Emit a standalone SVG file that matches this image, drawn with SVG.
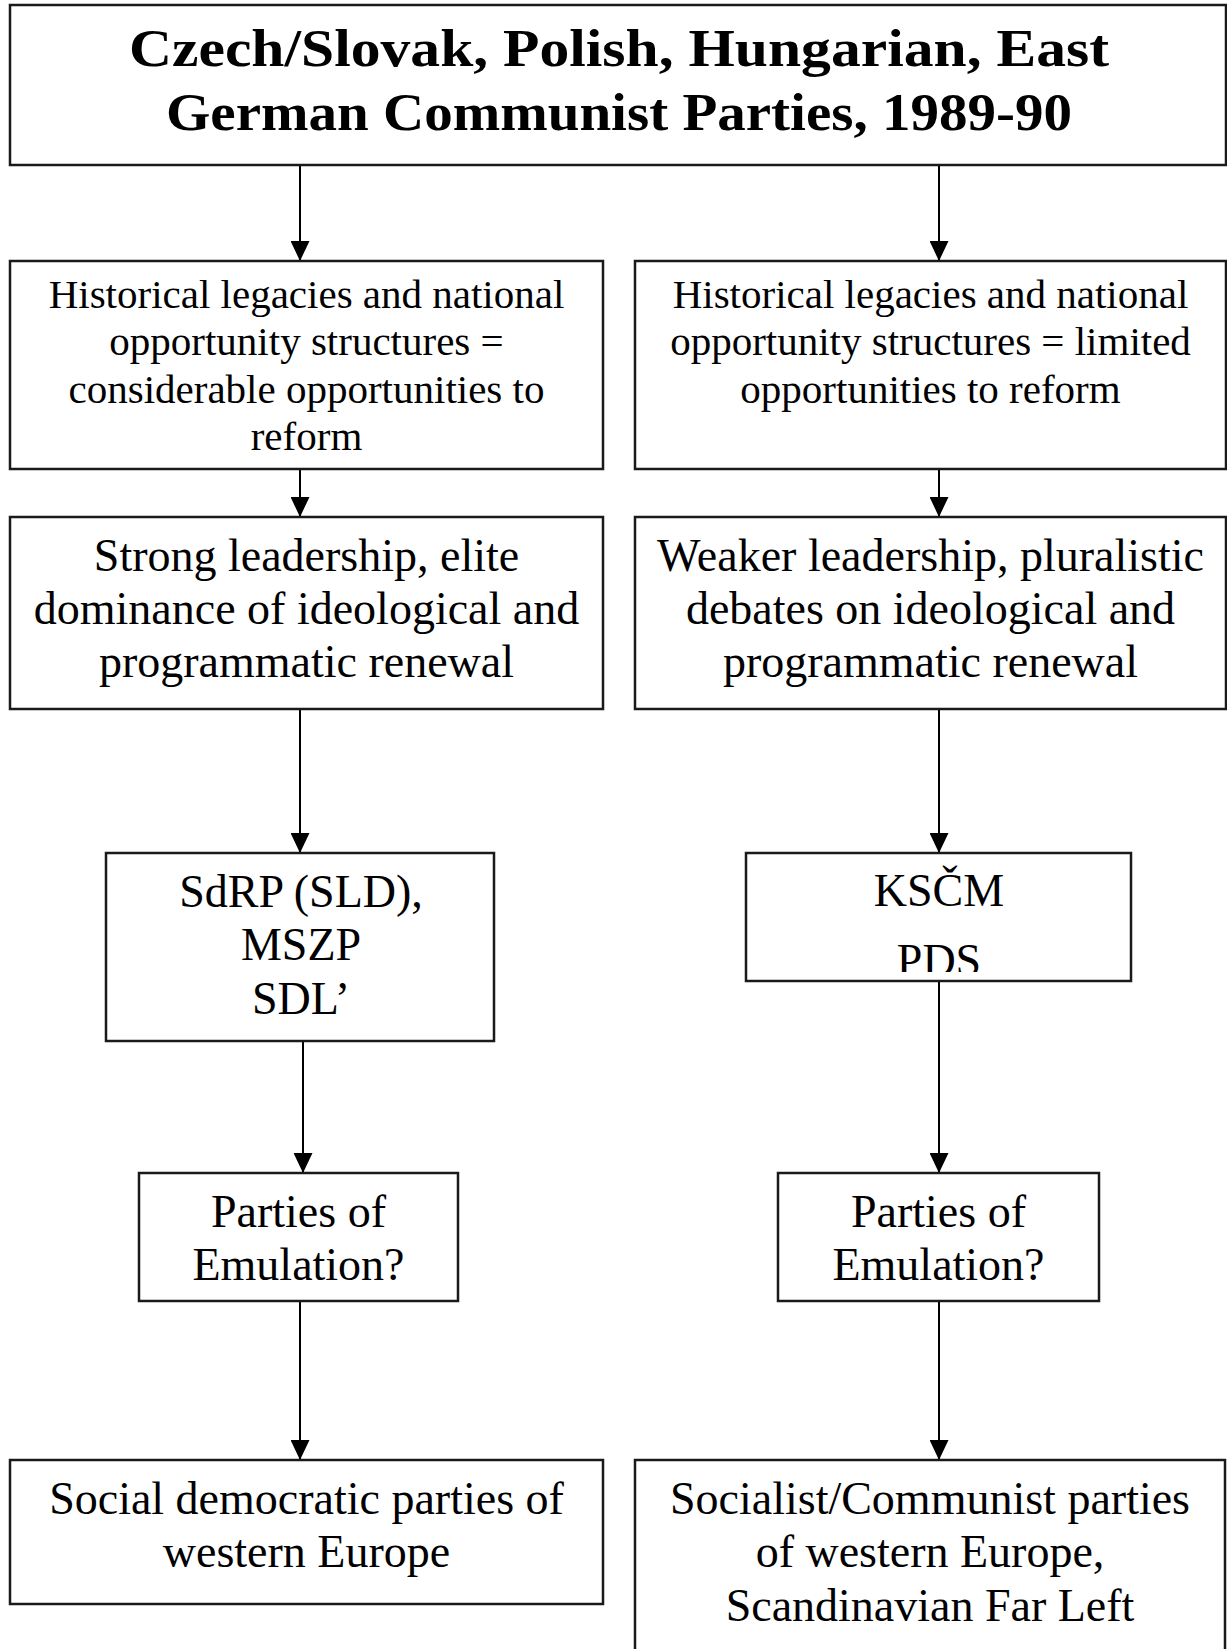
<svg xmlns="http://www.w3.org/2000/svg" width="1227" height="1649" viewBox="0 0 1227 1649">
<style>
.box{fill:#fff;stroke:#1a1a1a;stroke-width:2.5}
.t{font-family:"Liberation Serif","Times New Roman",serif;fill:#000;text-anchor:middle}
.title{font-weight:bold;font-size:53px}
.s40{font-size:41px}
.s46{font-size:46px}
.con{stroke:#000;stroke-width:2;fill:none;marker-end:url(#ah)}
</style>
<defs>
<marker id="ah" markerUnits="userSpaceOnUse" markerWidth="20" markerHeight="19" refX="20" refY="9.5" orient="auto" viewBox="0 0 20 19">
<path d="M0,0 L20,9.5 L0,19 Z" fill="#000"/>
</marker>
<clipPath id="clipK"><rect x="746" y="853" width="386" height="119"/></clipPath>
</defs>
<g id="connectors">
<line class="con" x1="300" y1="166" x2="300" y2="261"/>
<line class="con" x1="939" y1="166" x2="939" y2="261"/>
<line class="con" x1="300" y1="469" x2="300" y2="517"/>
<line class="con" x1="939" y1="469" x2="939" y2="517"/>
<line class="con" x1="300" y1="709" x2="300" y2="853"/>
<line class="con" x1="939" y1="709" x2="939" y2="853"/>
<line class="con" x1="303" y1="1041" x2="303" y2="1173"/>
<line class="con" x1="939" y1="981" x2="939" y2="1173"/>
<line class="con" x1="300" y1="1301" x2="300" y2="1460"/>
<line class="con" x1="939" y1="1301" x2="939" y2="1460"/>
</g>
<g id="title">
<rect class="box" x="10" y="5" width="1216" height="160"/>
<text class="t title" x="619" y="66" textLength="980" lengthAdjust="spacingAndGlyphs">Czech/Slovak, Polish, Hungarian, East</text>
<text class="t title" x="619" y="130" textLength="906" lengthAdjust="spacingAndGlyphs">German Communist Parties, 1989-90</text>
</g>
<g id="histL">
<rect class="box" x="10" y="261" width="593" height="208"/>
<text class="t s40" x="306.5" y="308">Historical legacies and national</text>
<text class="t s40" x="306.5" y="355">opportunity structures =</text>
<text class="t s40" x="306.5" y="403">considerable opportunities to</text>
<text class="t s40" x="306.5" y="450">reform</text>
</g>
<g id="histR">
<rect class="box" x="635" y="261" width="591" height="208"/>
<text class="t s40" x="930.5" y="308">Historical legacies and national</text>
<text class="t s40" x="930.5" y="355">opportunity structures = limited</text>
<text class="t s40" x="930.5" y="403">opportunities to reform</text>
</g>
<g id="strongL">
<rect class="box" x="10" y="517" width="593" height="192"/>
<text class="t s46" x="306.5" y="571">Strong leadership, elite</text>
<text class="t s46" x="306.5" y="624">dominance of ideological and</text>
<text class="t s46" x="306.5" y="677">programmatic renewal</text>
</g>
<g id="weakerR">
<rect class="box" x="635" y="517" width="591" height="192"/>
<text class="t s46" x="930.5" y="571">Weaker leadership, pluralistic</text>
<text class="t s46" x="930.5" y="624">debates on ideological and</text>
<text class="t s46" x="930.5" y="677">programmatic renewal</text>
</g>
<g id="sdrp">
<rect class="box" x="106" y="853" width="388" height="188"/>
<text class="t s46" x="301" y="907">SdRP (SLD),</text>
<text class="t s46" x="301" y="960">MSZP</text>
<text class="t s46" x="301" y="1014">SDL’</text>
</g>
<g id="kscm">
<rect class="box" x="746" y="853" width="385" height="128"/>
<text class="t s46" x="939" y="906">KSČM</text>
<text class="t s46" x="939" y="976" clip-path="url(#clipK)">PDS</text>
</g>
<g id="partiesL">
<rect class="box" x="139" y="1173" width="319" height="128"/>
<text class="t s46" x="298.5" y="1227">Parties of</text>
<text class="t s46" x="298.5" y="1280">Emulation?</text>
</g>
<g id="partiesR">
<rect class="box" x="778" y="1173" width="321" height="128"/>
<text class="t s46" x="938.5" y="1227">Parties of</text>
<text class="t s46" x="938.5" y="1280">Emulation?</text>
</g>
<g id="socialL">
<rect class="box" x="10" y="1460" width="593" height="144"/>
<text class="t s46" x="306.5" y="1514">Social democratic parties of</text>
<text class="t s46" x="306.5" y="1567">western Europe</text>
</g>
<g id="socialistR">
<rect class="box" x="635" y="1460" width="590" height="210"/>
<text class="t s46" x="930" y="1514">Socialist/Communist parties</text>
<text class="t s46" x="930" y="1567">of western Europe,</text>
<text class="t s46" x="930" y="1621">Scandinavian Far Left</text>
</g>
</svg>
